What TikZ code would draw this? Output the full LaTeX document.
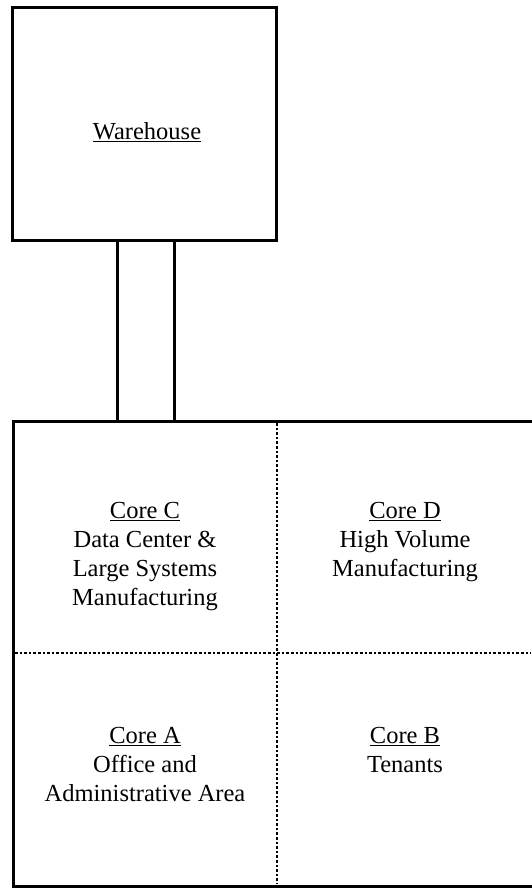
\documentclass[tikz,border=0pt]{standalone}
\usepackage{fontspec}
\setmainfont{Liberation Serif}
\begin{document}
\begin{tikzpicture}[x=1pt,y=-1pt,
  wall/.style={draw=black,line width=3pt},
  part/.style={draw=black,line width=2.4pt,dash pattern=on 2.6pt off 2pt},
  lbl/.style={align=center,font=\fontsize{24.5}{29}\selectfont,inner sep=0pt}]
\useasboundingbox (0,0) rectangle (531,888);
\node[wall,minimum width=264pt,minimum height=233pt,inner sep=0pt,anchor=north west] (wh) at (11,6) {};
\node[lbl] (whl) at (147,132) {\underline{Warehouse}};
\node[wall,minimum width=57pt,minimum height=181pt,inner sep=0pt,anchor=north west] (cor) at (116,239) {};
\coordinate (tl) at (13,421);
\coordinate (tr) at (533,421);
\coordinate (bl) at (13,886);
\coordinate (br) at (533,886);
\draw[wall] (tr) -- (tl) -- (bl) -- (br);
\coordinate (vt) at (277,423);
\coordinate (vb) at (277,884);
\coordinate (hl) at (15,653);
\coordinate (hr) at (531,653);
\draw[part] (vt) -- (vb);
\draw[part] (hl) -- (hr);
\node[lbl,anchor=north] (cc) at (145,502) {\underline{Core C}\\Data Center \&\\Large Systems\\Manufacturing};
\node[lbl,anchor=north] (cd) at (405,502) {\underline{Core D}\\High Volume\\Manufacturing};
\node[lbl,anchor=north] (ca) at (145,727) {\underline{Core A}\\Office and\\Administrative Area};
\node[lbl,anchor=north] (cb) at (405,727) {\underline{Core B}\\Tenants};
\end{tikzpicture}
\end{document}
